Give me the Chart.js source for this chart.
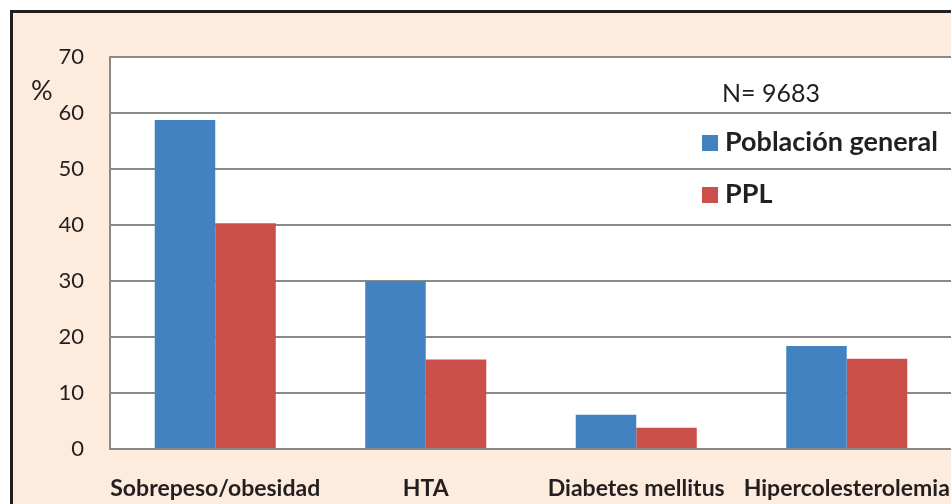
<!DOCTYPE html>
<html>
<head>
<meta charset="utf-8">
<script src="https://cdn.jsdelivr.net/npm/chart.js@4/dist/chart.umd.min.js"></script>
<style>
  html, body { margin: 0; padding: 0; overflow: hidden; background: #ffffff; }
  #wrap { width: 1000px; height: 504px; }
</style>
</head>
<body>
<div id="wrap"><canvas id="c" width="1000" height="504"></canvas></div>
<script>
// ---- data ----
const categories = ['Sobrepeso/obesidad', 'HTA', 'Diabetes mellitus', 'Hipercolesterolemia'];
const seriesNames = ['Población general', 'PPL'];
const poblacionGeneral = [58.75, 30.0, 6.1, 18.4];
const ppl = [40.3, 16.0, 3.8, 16.1];
const yMin = 0, yMax = 70, yStep = 10;
const sampleNote = 'N= 9683';
const yUnit = '%';

// ---- styles ----
const BLUE = '#4282c1';
const RED = '#ca5049';
const PEACH = '#fdebdd';
const INK = '#231f20';
const GRID = '#8a8a8a';
const FONT = 'Lato, "Open Sans", sans-serif';

const framePlugin = {
  id: 'frame',
  beforeDraw(chart) {
    const ctx = chart.ctx;
    const a = chart.chartArea;
    ctx.save();
    ctx.fillStyle = '#ffffff';
    ctx.fillRect(0, 0, chart.width, chart.height);
    ctx.fillStyle = PEACH;
    ctx.fillRect(11.5, 11.5, chart.width + 20, chart.height + 20);
    ctx.strokeStyle = INK;
    ctx.lineWidth = 3;
    ctx.strokeRect(11.5, 11.5, chart.width + 20, chart.height + 20);
    ctx.fillStyle = '#ffffff';
    ctx.fillRect(a.left, a.top, a.right - a.left, a.bottom - a.top);
    ctx.restore();
  },
  afterDraw(chart) {
    const ctx = chart.ctx;
    ctx.save();
    ctx.fillStyle = INK;
    ctx.textBaseline = 'alphabetic';
    ctx.textAlign = 'left';
    // unit label
    ctx.font = '27px ' + FONT;
    ctx.fillText(yUnit, 31, 100);
    // note
    ctx.font = '25px ' + FONT;
    ctx.fillText(sampleNote, 722, 102);
    // legend
    const ys = [151, 203];
    chart.data.datasets.forEach((ds, i) => {
      ctx.fillStyle = ds.backgroundColor;
      ctx.fillRect(702, ys[i] - 16, 16, 16);
      ctx.fillStyle = INK;
      ctx.font = 'bold 27px ' + FONT;
      ctx.fillText(ds.label, 725, ys[i]);
    });
    ctx.restore();
  }
};

new Chart(document.getElementById('c'), {
  type: 'bar',
  data: {
    labels: categories,
    datasets: [
      { label: seriesNames[0], data: poblacionGeneral, backgroundColor: BLUE },
      { label: seriesNames[1], data: ppl, backgroundColor: RED }
    ]
  },
  options: {
    responsive: false,
    animation: false,
    events: [],
    layout: { padding: { left: 0, top: 57, right: 48, bottom: 0 } },
    datasets: { bar: { barPercentage: 1.0, categoryPercentage: 0.575, borderWidth: 0 } },
    plugins: { legend: { display: false }, tooltip: { enabled: false }, title: { display: false } },
    scales: {
      x: {
        grid: { display: false, drawTicks: false },
        border: { display: true, color: GRID, width: 2 },
        ticks: { color: INK, font: { family: FONT, size: 23, weight: 'bold' }, padding: 26, maxRotation: 0, autoSkip: false },
        afterFit(scale) { scale.height = 55; }
      },
      y: {
        min: yMin, max: yMax,
        grid: { color: GRID, lineWidth: 2, drawTicks: false },
        border: { display: true, color: GRID, width: 2 },
        ticks: { stepSize: yStep, color: INK, font: { family: FONT, size: 22 }, padding: 26 },
        afterFit(scale) { scale.width = 110; }
      }
    }
  },
  plugins: [framePlugin]
});
</script>
</body>
</html>
